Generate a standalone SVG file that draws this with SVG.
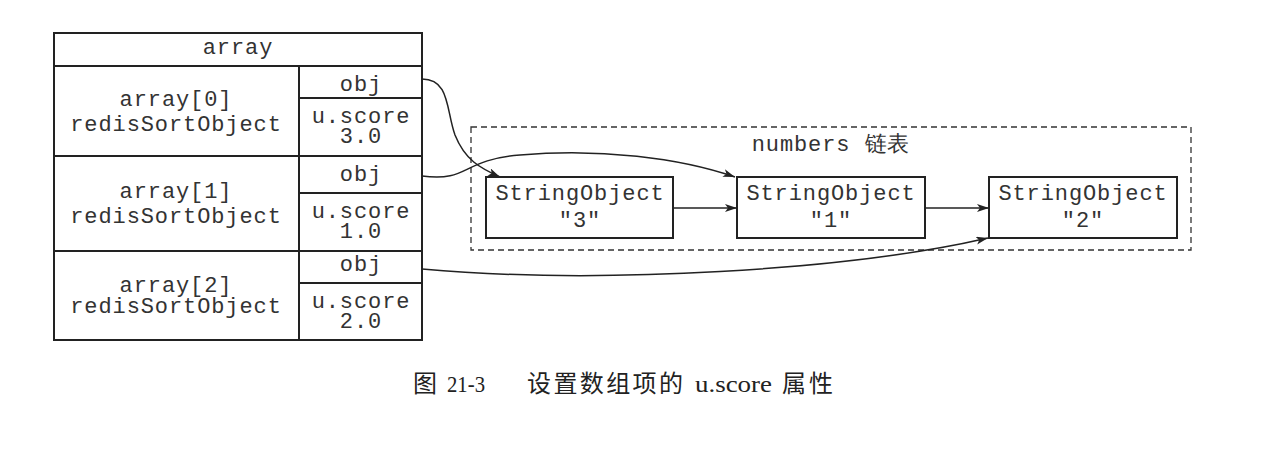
<svg xmlns="http://www.w3.org/2000/svg" width="1262" height="450" viewBox="0 0 1262 450">
<style>
.box{fill:#fff;stroke:#222;stroke-width:2}
.m{font-family:"Liberation Mono","DejaVu Sans Mono",monospace;font-size:22px;letter-spacing:0.9px;fill:#333;text-anchor:middle}
.c{fill:none;stroke:#222;stroke-width:1.5}
.cap{font-family:"Liberation Serif","Noto Sans CJK SC",serif;font-size:24px;fill:#222}
</style>
<defs>
<marker id="ah" viewBox="0 0 12 8" refX="12" refY="4" markerWidth="12" markerHeight="8" markerUnits="userSpaceOnUse" orient="auto">
<path d="M0,0 L12,4 L0,8 L3,4 Z" fill="#222"/>
</marker>
</defs>
<rect width="1262" height="450" fill="#fff"/>
<g id="array">
<rect class="box" x="54" y="33" width="368" height="307"/>
<line class="box" x1="54" y1="66" x2="422" y2="66"/>
<text class="m" x="238" y="54">array</text>
</g>
<g id="array0">
<rect class="box" x="54" y="66" width="245" height="90"/>
<rect class="box" x="299" y="66" width="123" height="32"/>
<rect class="box" x="299" y="98" width="123" height="58"/>
<text class="m" x="176" y="106">array[0]</text>
<text class="m" x="176" y="131">redisSortObject</text>
<text class="m" x="361" y="91">obj</text>
<text class="m" x="361" y="123">u.score</text>
<text class="m" x="361" y="143">3.0</text>
</g>
<g id="array1">
<rect class="box" x="54" y="156" width="245" height="95"/>
<rect class="box" x="299" y="156" width="123" height="37"/>
<rect class="box" x="299" y="193" width="123" height="58"/>
<text class="m" x="176" y="198">array[1]</text>
<text class="m" x="176" y="223">redisSortObject</text>
<text class="m" x="361" y="181">obj</text>
<text class="m" x="361" y="218">u.score</text>
<text class="m" x="361" y="238">1.0</text>
</g>
<g id="array2">
<rect class="box" x="54" y="251" width="245" height="89"/>
<rect class="box" x="299" y="251" width="123" height="32"/>
<rect class="box" x="299" y="283" width="123" height="57"/>
<text class="m" x="176" y="292">array[2]</text>
<text class="m" x="176" y="313">redisSortObject</text>
<text class="m" x="361" y="271">obj</text>
<text class="m" x="361" y="308">u.score</text>
<text class="m" x="361" y="328">2.0</text>
</g>
<g id="numbers">
<rect x="471" y="127" width="720" height="123" fill="none" stroke="#333" stroke-width="1.3" stroke-dasharray="6,4"/>
<text class="m" x="831" y="151">numbers 链表</text>
</g>
<g id="s3">
<rect class="box" x="486" y="177" width="187" height="61"/>
<text class="m" x="580" y="200">StringObject</text>
<text class="m" x="580" y="227">"3"</text>
</g>
<g id="s1">
<rect class="box" x="737" y="177" width="188" height="61"/>
<text class="m" x="831" y="200">StringObject</text>
<text class="m" x="831" y="227">"1"</text>
</g>
<g id="s2">
<rect class="box" x="989" y="177" width="188" height="61"/>
<text class="m" x="1083" y="200">StringObject</text>
<text class="m" x="1083" y="227">"2"</text>
</g>
<g id="connectors">
<path class="c" d="M422,79 C450,79 446,110 455,135 C465,160 480,168 500,177" marker-end="url(#ah)"/>
<path class="c" d="M422,176 C470,182 460,160 520,155 C600,148 680,158 735,177" marker-end="url(#ah)"/>
<path class="c" d="M422,269 C600,285 850,270 988,238" marker-end="url(#ah)"/>
<line class="c" x1="673" y1="208" x2="737" y2="208" marker-end="url(#ah)"/>
<line class="c" x1="925" y1="208" x2="989" y2="208" marker-end="url(#ah)"/>
</g>
<text class="cap" y="392"><tspan x="413">图</tspan><tspan x="447" textLength="38" lengthAdjust="spacingAndGlyphs">21-3</tspan><tspan x="527" textLength="156">设置数组项的</tspan><tspan x="695" textLength="77" lengthAdjust="spacingAndGlyphs">u.score</tspan><tspan x="782" textLength="51">属性</tspan></text>
</svg>
